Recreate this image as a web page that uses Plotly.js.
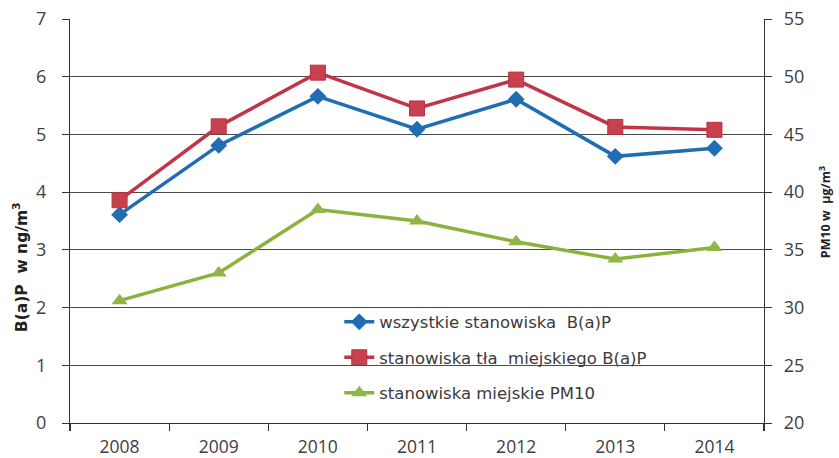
<!DOCTYPE html>
<html>
<head>
<meta charset="utf-8">
<script src="https://cdn.plot.ly/plotly-3.0.1.min.js"></script>
<style>html,body{margin:0;padding:0;background:#fff;}#chart{width:839px;height:458px;}</style>
</head>
<body>
<div id="chart"></div>
<script>
const years = ['2008','2009','2010','2011','2012','2013','2014'];
const bapAll = [3.61, 4.81, 5.66, 5.09, 5.61, 4.62, 4.76];
const bapUrban = [3.86, 5.14, 6.07, 5.45, 5.95, 5.13, 5.08];
const pm10Urban = [30.6, 33.0, 38.5, 37.5, 35.7, 34.2, 35.2];
const names = ['wszystkie stanowiska  B(a)P', 'stanowiska tła  miejskiego B(a)P', 'stanowiska miejskie PM10'];
const leftTitle = 'B(a)P  w ng/m<sup>3</sup>';
const rightTitle = 'PM10 w  µg/m<sup>3</sup>';

const TICKFONT = 'Open Sans, sans-serif';
const WIDEFONT = 'DejaVu Sans, sans-serif';
const traces = [
  {x: years, y: bapAll, name: names[0], type: 'scatter', mode: 'lines+markers', legendgroup: 'a',
   line: {color: '#1F6DB3', width: 3.5}, marker: {symbol: 'diamond', size: 13, color: '#1F6DB3'}},
  {x: years, y: bapUrban, name: names[1], type: 'scatter', mode: 'lines+markers', legendgroup: 'b',
   line: {color: '#C23548', width: 3.5}, marker: {symbol: 'square', size: 15, color: '#C8414F', line: {color: '#B8303F', width: 1}}},
  {x: years, y: pm10Urban, name: names[2], type: 'scatter', mode: 'lines+markers', legendgroup: 'c', yaxis: 'y2',
   line: {color: '#8AB23C', width: 3.5}, marker: {symbol: 'triangle-up', size: 14, color: '#8FB646'}}
];

const layout = {
  width: 839, height: 458,
  margin: {l: 70, r: 75, t: 19, b: 35},
  paper_bgcolor: '#fff', plot_bgcolor: 'rgba(0,0,0,0)',
  font: {family: TICKFONT, size: 18, color: '#404040'},
  showlegend: true,
  legend: {x: 0.388, y: 0.293, xanchor: 'left', yanchor: 'top', bgcolor: 'rgba(0,0,0,0)',
           tracegroupgap: 11, font: {size: 16.5, color: '#3a3a3a', family: WIDEFONT}, itemwidth: 30},
  xaxis: {type: 'category', range: [-0.5, 6.5], showgrid: false, showline: true, linecolor: '#333', linewidth: 1.2,
          ticks: 'outside', tickson: 'boundaries', ticklen: 7, tickcolor: '#333', tickwidth: 1.2,
          ticklabelstandoff: 8, tickfont: {size: 17.5, color: '#404040'}, fixedrange: true},
  yaxis: {range: [0, 7], dtick: 1, showgrid: true, gridcolor: '#4a4a4a', gridwidth: 1, zeroline: false,
          showline: true, linecolor: '#333', linewidth: 1.2, ticks: 'outside', ticklen: 7, tickcolor: '#333',
          ticklabelstandoff: 12, tickfont: {size: 18, color: '#404040'}},
  yaxis2: {range: [20, 55], dtick: 5, overlaying: 'y', side: 'right', showgrid: false, zeroline: false,
           showline: true, linecolor: '#333', linewidth: 1.2, ticks: 'outside', ticklen: 7, tickcolor: '#333',
           ticklabelstandoff: 8, tickfont: {size: 18, color: '#404040'}},
  annotations: [
    {text: leftTitle, xref: 'paper', yref: 'paper', x: -0.071, y: 0.385, xanchor: 'center', yanchor: 'middle',
     textangle: -90, showarrow: false,
     font: {size: 15.5, color: '#222', family: WIDEFONT, weight: 'bold'}},
    {text: rightTitle, xref: 'paper', yref: 'paper', x: 1.088, y: 0.522, xanchor: 'center', yanchor: 'middle',
     textangle: -90, showarrow: false,
     font: {size: 12.5, color: '#222', family: TICKFONT, weight: 'bold'}}
  ]
};

Plotly.newPlot('chart', traces, layout, {displayModeBar: false, staticPlot: true});
</script>
</body>
</html>
